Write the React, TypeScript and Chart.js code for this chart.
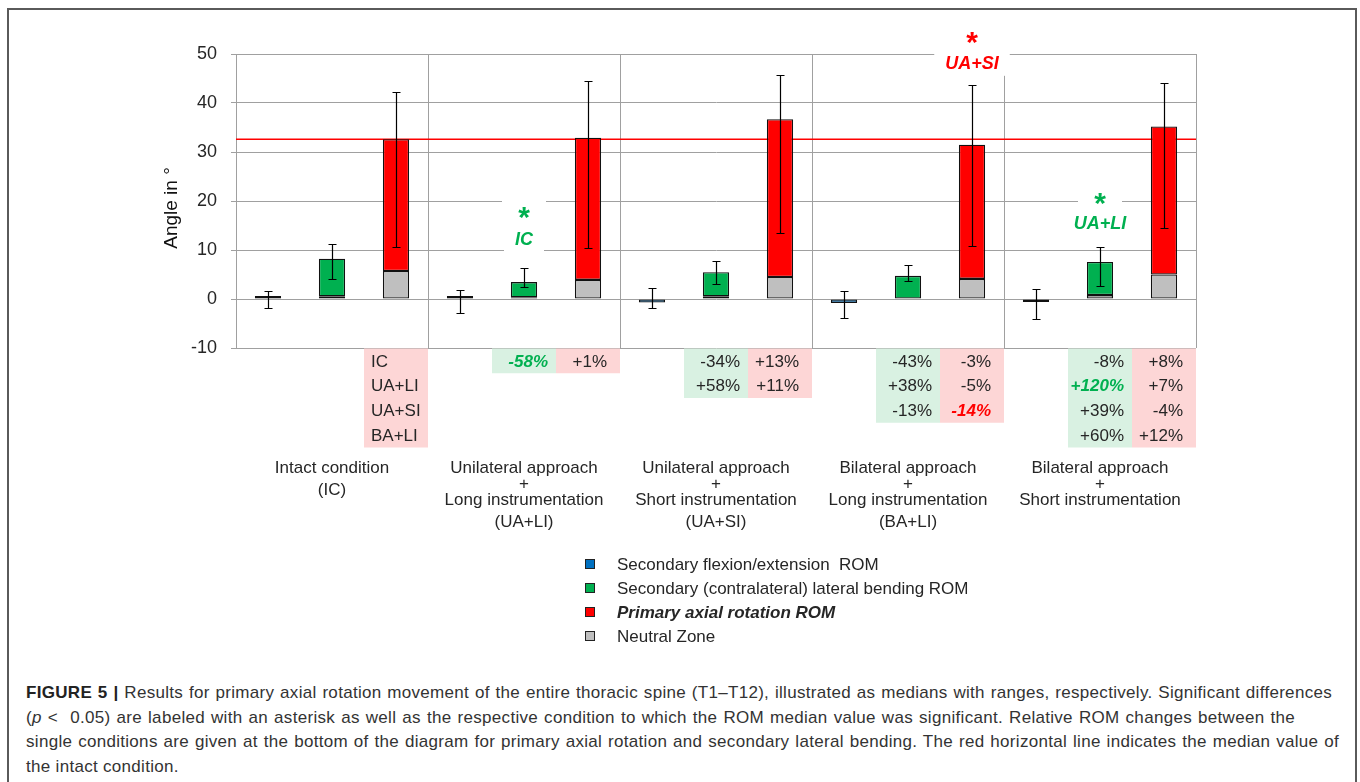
import React, { useEffect, useRef } from "react";
import { Chart, registerables } from "chart.js";

Chart.register(...registerables);

// ---------- DATA ----------
const groupLabels: string[][] = [
  ["Intact condition", "(IC)"],
  ["Unilateral approach", "+", "Long instrumentation", "(UA+LI)"],
  ["Unilateral approach", "+", "Short instrumentation", "(UA+SI)"],
  ["Bilateral approach", "+", "Long instrumentation", "(BA+LI)"],
  ["Bilateral approach", "+", "Short instrumentation"],
];
// Secondary flexion/extension ROM (median, range)
const flexExt = [0.3, 0.3, -0.7, -0.8, -0.5];
const flexExtLow = [-1.9, -2.9, -1.9, -3.8, -4.0];
const flexExtHigh = [1.6, 1.8, 2.2, 1.6, 2.0];
// Secondary (contralateral) lateral bending ROM
const latBend = [8.2, 3.45, 5.45, 4.72, 7.56];
const latBendNZ = [0.55, 0.35, 0.55, 0.1, 0.8];
const latBendLow = [4.1, 2.4, 3.1, 3.6, 2.7];
const latBendHigh = [11.2, 6.3, 7.8, 7.0, 10.7];
// Primary axial rotation ROM
const axRot = [32.6, 32.9, 36.7, 31.5, 35.2];
const axRotNZ = [5.7, 3.9, 4.5, 4.1, 5.0];
const axRotLow = [10.7, 10.5, 13.5, 10.9, 14.4];
const axRotHigh = [42.2, 44.5, 45.8, 43.6, 44.1];
// Median of intact condition (red line)
const intactMedian = 32.6;

// Relative changes table
const latChanges: string[][] = [
  [],
  ["-58%"],
  ["-34%", "+58%"],
  ["-43%", "+38%", "-13%"],
  ["-8%", "+120%", "+39%", "+60%"],
];
const latSignificant: boolean[][] = [
  [],
  [true],
  [false, false],
  [false, false, false],
  [false, true, false, false],
];
const rotChanges: string[][] = [
  ["IC", "UA+LI", "UA+SI", "BA+LI"],
  ["+1%"],
  ["+13%", "+11%"],
  ["-3%", "-5%", "-14%"],
  ["+8%", "+7%", "-4%", "+12%"],
];
const rotSignificant: boolean[][] = [
  [false, false, false, false],
  [false],
  [false, false],
  [false, false, true],
  [false, false, false, false],
];

const legendLabels = [
  "Secondary flexion/extension  ROM",
  "Secondary (contralateral) lateral bending ROM",
  "Primary axial rotation ROM",
  "Neutral Zone",
];

// ---------- STYLE ----------
const BLUE = "#0070C0";
const GREEN = "#00B050";
const RED = "#FF0000";
const GREY = "#BFBFBF";
const GRID = "#A0A0A0";
const TEXT = "#262626";
const FONT = '"Liberation Sans", Arial, Helvetica, sans-serif';
const CELL_GREEN = "#D9F1E2";
const CELL_RED = "#FDD6D6";

const categories: string[] = [];
const nzData: (number | null)[] = [];
const romData: number[] = [];
const romColors: string[] = [];
const errLow: number[] = [];
const errHigh: number[] = [];
for (let g = 0; g < groupLabels.length; g++) {
  categories.push(`G${g}-FE`, `G${g}-LB`, `G${g}-AR`);
  nzData.push(null, latBendNZ[g], axRotNZ[g]);
  romData.push(flexExt[g], latBend[g] - latBendNZ[g], axRot[g] - axRotNZ[g]);
  romColors.push(BLUE, GREEN, RED);
  errLow.push(flexExtLow[g], latBendLow[g], axRotLow[g]);
  errHigh.push(flexExtHigh[g], latBendHigh[g], axRotHigh[g]);
}

function textCentered(ctx: CanvasRenderingContext2D, t: string, x: number, cy: number) {
  ctx.textBaseline = "alphabetic";
  const m = ctx.measureText(t);
  const a = m.actualBoundingBoxAscent;
  const d = m.actualBoundingBoxDescent;
  ctx.fillText(t, x, cy + (a - d) / 2);
}

const customPlugin = {
  id: "custom",
  beforeDatasetsDraw(chart: any) {
    const { ctx, chartArea, scales } = chart;
    const y = scales.y;
    const n = categories.length;
    const catW = (chartArea.right - chartArea.left) / n;
    ctx.save();
    ctx.strokeStyle = GRID;
    ctx.lineWidth = 1;
    for (let k = 1; k <= groupLabels.length; k++) {
      const x = Math.round(chartArea.left + k * 3 * catW) + 0.5;
      ctx.beginPath();
      ctx.moveTo(x, chartArea.top);
      ctx.lineTo(x, chartArea.bottom);
      ctx.stroke();
    }
    ctx.beginPath();
    ctx.moveTo(chartArea.left, Math.round(chartArea.top) + 0.5);
    ctx.lineTo(chartArea.right, Math.round(chartArea.top) + 0.5);
    ctx.stroke();
    // red intact median line
    const ry = y.getPixelForValue(intactMedian);
    ctx.strokeStyle = RED;
    ctx.lineWidth = 1.6;
    ctx.beginPath();
    ctx.moveTo(chartArea.left, ry);
    ctx.lineTo(chartArea.right, ry);
    ctx.stroke();
    ctx.restore();
  },
  afterDatasetsDraw(chart: any) {
    const { ctx, scales } = chart;
    const x = scales.x;
    const y = scales.y;
    ctx.save();
    // error bars
    ctx.strokeStyle = "#000";
    ctx.lineWidth = 1.2;
    for (let i = 0; i < categories.length; i++) {
      const cx = Math.round(x.getPixelForValue(i)) + 0.5;
      const yl = Math.round(y.getPixelForValue(errLow[i])) + 0.5;
      const yh = Math.round(y.getPixelForValue(errHigh[i])) + 0.5;
      ctx.beginPath();
      ctx.moveTo(cx, yh);
      ctx.lineTo(cx, yl);
      ctx.moveTo(cx - 4, yh);
      ctx.lineTo(cx + 4, yh);
      ctx.moveTo(cx - 4, yl);
      ctx.lineTo(cx + 4, yl);
      ctx.stroke();
    }
    // significance annotations
    const annots = [
      { cat: 4, color: GREEN, star: 17.5, label: "IC", labelY: 12.3 },
      { cat: 11, color: RED, star: 53.3, label: "UA+SI", labelY: 48.2 },
      { cat: 13, color: GREEN, star: 20.5, label: "UA+LI", labelY: 15.6 },
    ];
    for (const a of annots) {
      const cx = x.getPixelForValue(a.cat);
      const sy = y.getPixelForValue(a.star);
      const ly = y.getPixelForValue(a.labelY);
      ctx.font = `bold italic 18px ${FONT}`;
      const lw = ctx.measureText(a.label).width + 22;
      ctx.fillStyle = "#fff";
      ctx.fillRect(cx - 22, sy - 13, 44, 26);
      ctx.fillRect(cx - lw / 2, ly - 13, lw, 26);
      ctx.fillStyle = a.color;
      ctx.textAlign = "center";
      ctx.font = `bold 30px ${FONT}`;
      textCentered(ctx, "*", cx, sy);
      ctx.font = `bold italic 18px ${FONT}`;
      textCentered(ctx, a.label, cx, ly);
    }
    ctx.restore();
  },
  afterDraw(chart: any) {
    const { ctx, chartArea, scales } = chart;
    const x = scales.x;
    const catW = (chartArea.right - chartArea.left) / categories.length;
    const rowH = 24.75;
    ctx.save();
    // table
    for (let g = 0; g < groupLabels.length; g++) {
      const cols = [
        { cat: g * 3 + 1, rows: latChanges[g], sig: latSignificant[g], bg: CELL_GREEN, sc: GREEN, pad: 8 },
        { cat: g * 3 + 2, rows: rotChanges[g], sig: rotSignificant[g], bg: CELL_RED, sc: RED, pad: 13 },
      ];
      for (const c of cols) {
        if (!c.rows.length) continue;
        const cx = x.getPixelForValue(c.cat);
        const left = cx - catW / 2;
        const top = chartArea.bottom + 0.5;
        ctx.fillStyle = c.bg;
        ctx.fillRect(left, top, catW, rowH * c.rows.length);
        c.rows.forEach((t, r) => {
          const cy = top + rowH * (r + 0.5);
          ctx.textBaseline = "middle";
          if (c.sig[r]) {
            ctx.font = `bold italic 17px ${FONT}`;
            ctx.fillStyle = c.sc;
          } else {
            ctx.font = `17px ${FONT}`;
            ctx.fillStyle = TEXT;
          }
          if (g === 0) {
            ctx.textAlign = "left";
            ctx.fillText(t, left + 7, cy + 1);
          } else {
            ctx.textAlign = "right";
            ctx.fillText(t, left + catW - c.pad, cy + 1);
          }
        });
      }
      // group labels
      const gx = x.getPixelForValue(g * 3 + 1);
      ctx.font = `17px ${FONT}`;
      ctx.fillStyle = TEXT;
      ctx.textAlign = "center";
      ctx.textBaseline = "middle";
      let ly = 468;
      groupLabels[g].forEach((t, i) => {
        if (i > 0) {
          const prev = groupLabels[g][i - 1];
          ly += prev === "+" || t === "+" ? 16 : 22;
        }
        ctx.fillText(t, gx, ly);
      });
    }
    // y title
    ctx.save();
    ctx.translate(172, 208);
    ctx.rotate(-Math.PI / 2);
    ctx.font = `19px ${FONT}`;
    ctx.fillStyle = "#111";
    ctx.textAlign = "center";
    ctx.textBaseline = "middle";
    ctx.fillText("Angle in °", 0, 0);
    ctx.restore();
    // legend
    const legColors = [BLUE, GREEN, RED, GREY];
    const legY = [564, 588, 612, 636];
    legendLabels.forEach((t, i) => {
      ctx.fillStyle = legColors[i];
      ctx.fillRect(585, legY[i] - 5, 10, 10);
      ctx.strokeStyle = "#222";
      ctx.lineWidth = 1;
      ctx.strokeRect(585.5, legY[i] - 4.5, 9, 9);
      ctx.fillStyle = TEXT;
      ctx.font = i === 2 ? `bold italic 17px ${FONT}` : `17px ${FONT}`;
      ctx.textAlign = "left";
      ctx.textBaseline = "middle";
      ctx.fillText(t, 617, legY[i] + 1);
    });
    ctx.restore();
  },
};

export default function App() {
  const ref = useRef<HTMLCanvasElement | null>(null);
  useEffect(() => {
    if (!ref.current) return;
    const chart = new Chart(ref.current, {
      type: "bar",
      data: {
        labels: categories,
        datasets: [
          {
            label: "Neutral Zone",
            data: nzData as any,
            backgroundColor: GREY,
            borderColor: "#111",
            borderWidth: 1.3,
            borderSkipped: false,
            categoryPercentage: 1,
            barPercentage: 0.41,
          },
          {
            label: "ROM",
            data: romData,
            backgroundColor: romColors,
            borderColor: "#111",
            borderWidth: 1.3,
            borderSkipped: false,
            minBarLength: 3,
            categoryPercentage: 1,
            barPercentage: 0.41,
          },
        ],
      },
      options: {
        animation: false,
        responsive: false,
        devicePixelRatio: 1,
        layout: { padding: { left: 0, top: 54, right: 164, bottom: 312 } },
        plugins: { legend: { display: false }, tooltip: { enabled: false } },
        scales: {
          x: { display: false, stacked: true, offset: true, grid: { display: false } },
          y: {
            stacked: true,
            min: -10,
            max: 50,
            ticks: {
              stepSize: 5,
              padding: 14,
              color: TEXT,
              font: { family: FONT, size: 18 },
              callback: (v: any) => (Number(v) % 10 === 0 ? String(v) : ""),
            },
            grid: { color: GRID, lineWidth: 1, tickLength: 5 },
            border: { color: GRID },
            afterFit: (s: any) => {
              s.width = 236;
            },
          },
        },
      },
      plugins: [customPlugin],
    });
    return () => chart.destroy();
  }, []);

  const lineStyle: React.CSSProperties = {
    whiteSpace: "nowrap",
    textAlign: "justify",
    textAlignLast: "justify" as any,
  };

  return (
    <div style={{ position: "fixed", left: 0, top: 0, width: 1360, height: 782, background: "#fff", overflow: "hidden" }}>
      <div
        style={{
          position: "absolute",
          left: 7,
          top: 8,
          width: 1346,
          height: 800,
          border: "2px solid #5a5a5a",
        }}
      />
      <canvas ref={ref} width={1360} height={660} style={{ position: "absolute", left: 0, top: 0, width: 1360, height: 660 }} />
      <div
        style={{
          position: "absolute",
          left: 26,
          top: 681,
          font: `17px ${FONT}`,
          letterSpacing: "0.3px",
          lineHeight: "24.5px",
          color: "#333",
        }}
      >
        <div style={{ ...lineStyle, width: 1306 }}>
          <b style={{ color: "#222" }}>FIGURE 5 |</b> Results for primary axial rotation movement of the entire thoracic spine (T1–T12), illustrated as medians with ranges, respectively. Significant differences
        </div>
        <div style={{ ...lineStyle, width: 1269 }}>
          (<i>p</i> {"<\u00a0 0.05)"} are labeled with an asterisk as well as the respective condition to which the ROM median value was significant. Relative ROM changes between the
        </div>
        <div style={{ ...lineStyle, width: 1313 }}>
          single conditions are given at the bottom of the diagram for primary axial rotation and secondary lateral bending. The red horizontal line indicates the median value of
        </div>
        <div style={{ whiteSpace: "nowrap" }}>the intact condition.</div>
      </div>
    </div>
  );
}
